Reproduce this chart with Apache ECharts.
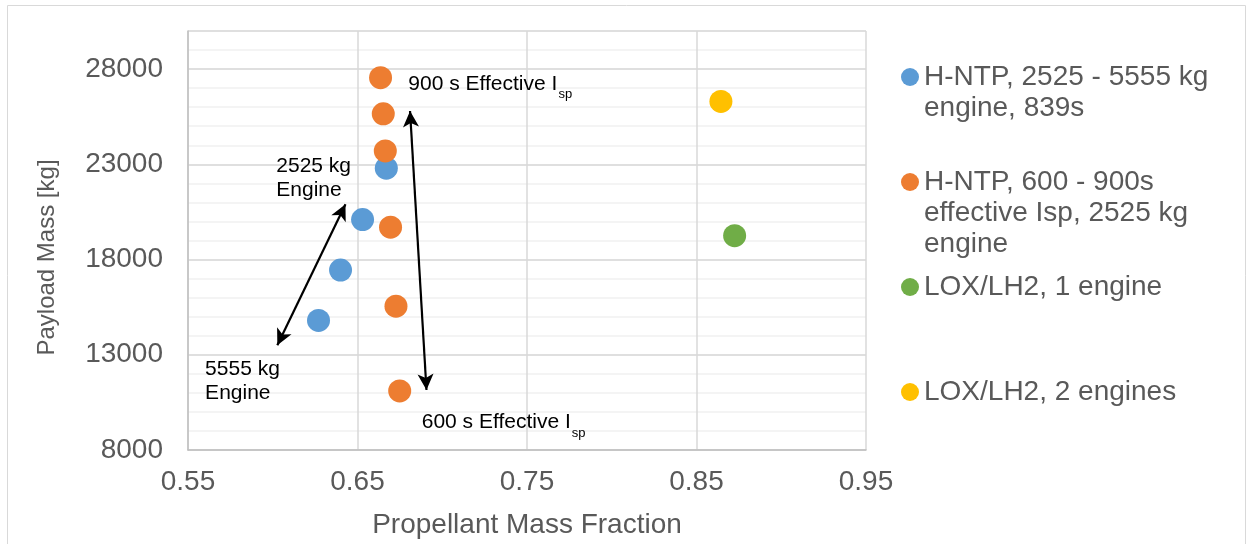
<!DOCTYPE html>
<html>
<head>
<meta charset="utf-8">
<script src="https://cdn.jsdelivr.net/npm/echarts@6/dist/echarts.min.js"></script>
<style>html,body{margin:0;padding:0;background:#fff}#c{width:1250px;height:544px}</style>
</head>
<body>
<div id="c"></div>
<script>
// ---- data ----
const seriesNames = [
  'H-NTP, 2525 - 5555 kg\nengine, 839s',
  'H-NTP, 600 - 900s\neffective Isp, 2525 kg\nengine',
  'LOX/LH2, 1 engine',
  'LOX/LH2, 2 engines'
];
const hntpEngineX = [0.667, 0.653, 0.640, 0.627];
const hntpEngineY = [22800, 20100, 17450, 14800];
const hntpIspX = [0.6636, 0.6652, 0.6664, 0.6695, 0.6727, 0.6749];
const hntpIspY = [27550, 25650, 23700, 19700, 15550, 11100];
const lox1X = [0.8725];
const lox1Y = [19250];
const lox2X = [0.8644];
const lox2Y = [26300];
const xTicks = [0.55, 0.65, 0.75, 0.85, 0.95];
const yTicks = [8000, 13000, 18000, 23000, 28000];
// annotation arrows (data coords): [from, to]
const arrowEngine = [[0.6027, 13500], [0.6429, 20900]];
const arrowIsp = [[0.6810, 25800], [0.6907, 11150]];
// annotation text anchors (data coords)
const noteTexts = ['900 s Effective I', '2525 kg\nEngine', '5555 kg\nEngine', '600 s Effective I'];
const noteX = [0.6800, 0.6021, 0.5601, 0.6879];
const noteY = [27230, 22250, 11600, 9440];
const noteSub = ['sp', '', '', 'sp'];

const colors = ['#5B9BD5', '#ED7D31', '#70AD47', '#FFC000'];
const FONT = '"Liberation Sans", Arial, sans-serif';

function pairs(xs, ys) { return xs.map((x, i) => [x, ys[i]]); }

const chart = echarts.init(document.getElementById('c'), null, {renderer: 'canvas'});

const notes = noteTexts.map((t, i) => ({
  coord: [noteX[i], noteY[i]],
  value: i,
  label: {
    formatter: noteSub[i] ? '{a|' + t + '}{s|' + noteSub[i] + '}' : '{b|' + t + '}'
  }
}));

const legendGraphic = [];
const legendLineCenters = [[77, 108], [182, 213, 244], [287], [392]];
seriesNames.forEach((n, i) => {
  const y0 = legendLineCenters[i][0];
  legendGraphic.push({
    type: 'circle', shape: {cx: 910, cy: y0, r: 9},
    style: {fill: colors[i]}, z: 100
  });
  legendGraphic.push({
    type: 'text', x: 924, y: y0 - 15.5,
    style: {text: n, font: '28px ' + FONT, fill: '#595959', lineHeight: 31, verticalAlign: 'top'},
    z: 100
  });
});
legendGraphic.push({
  type: 'rect', shape: {x: 7.5, y: 5.5, width: 1238, height: 600},
  style: {fill: 'none', stroke: '#d9d9d9', lineWidth: 1}, z: -1, silent: true
});

const option = {
  animation: false,
  textStyle: {fontFamily: FONT},
  grid: {left: 188, right: 384, top: 31, bottom: 94, containLabel: false},
  xAxis: {
    type: 'value', min: xTicks[0], max: xTicks[xTicks.length - 1], interval: 0.1,
    name: 'Propellant Mass Fraction', nameLocation: 'middle', nameGap: 61,
    nameTextStyle: {fontSize: 28, color: '#595959', fontFamily: FONT},
    axisLine: {show: true, lineStyle: {color: '#bfbfbf', width: 1.5}},
    axisTick: {show: false},
    axisLabel: {fontSize: 28, color: '#595959', margin: 18, fontFamily: FONT,
      formatter: v => v.toFixed(2)},
    splitLine: {show: true, lineStyle: {color: '#d9d9d9', width: 1.5}}
  },
  yAxis: [{
    type: 'value', min: 8000, max: 30000, interval: 1000,
    axisLine: {show: true, lineStyle: {color: '#bfbfbf', width: 1.5}},
    axisTick: {show: false},
    axisLabel: {show: false},
    splitLine: {show: true, lineStyle: {color: '#f0f0f0', width: 1.5}}
  }, {
    type: 'value', min: 8000, max: 30000, interval: 5000, position: 'left',
    name: 'Payload Mass [kg]', nameLocation: 'middle', nameGap: 129,
    nameTextStyle: {fontSize: 24, color: '#595959', fontFamily: FONT, padding: [0, 34, 0, 0]},
    axisLine: {show: false}, axisTick: {show: false},
    axisLabel: {fontSize: 28, color: '#595959', margin: 25, fontFamily: FONT,
      formatter: v => (yTicks.indexOf(v) >= 0 ? String(v) : '')},
    splitLine: {show: true, lineStyle: {color: '#d9d9d9', width: 1.5}}
  }],
  graphic: legendGraphic,
  series: [
    {
      name: seriesNames[0], type: 'scatter', symbolSize: 23,
      itemStyle: {color: colors[0], opacity: 1}, data: pairs(hntpEngineX, hntpEngineY), z: 3,
      markLine: {
        silent: true, symbol: ['arrow', 'arrow'], symbolSize: [12, 16], precision: 6,
        label: {show: false},
        lineStyle: {color: '#000', width: 2.2, type: 'solid'},
        emphasis: {disabled: true},
        data: [
          [{coord: arrowEngine[0]}, {coord: arrowEngine[1]}],
          [{coord: arrowIsp[0]}, {coord: arrowIsp[1]}]
        ]
      },
      markPoint: {
        silent: true, symbol: 'circle', symbolSize: 0,
        itemStyle: {color: 'transparent'},
        label: {
          show: true, position: 'right', distance: 0, color: '#000',
          rich: {
            a: {fontSize: 21, color: '#000', fontFamily: FONT, lineHeight: 24},
            s: {fontSize: 13, color: '#000', fontFamily: FONT, lineHeight: 24, padding: [22, 0, 0, 1]},
            b: {fontSize: 21, color: '#000', fontFamily: FONT, lineHeight: 24}
          }
        },
        data: notes
      }
    },
    {name: seriesNames[1], type: 'scatter', symbolSize: 23,
      itemStyle: {color: colors[1], opacity: 1}, data: pairs(hntpIspX, hntpIspY), z: 4},
    {name: seriesNames[2], type: 'scatter', symbolSize: 23,
      itemStyle: {color: colors[2], opacity: 1}, data: pairs(lox1X, lox1Y)},
    {name: seriesNames[3], type: 'scatter', symbolSize: 23,
      itemStyle: {color: colors[3], opacity: 1}, data: pairs(lox2X, lox2Y)}
  ]
};
chart.setOption(option);
</script>
</body>
</html>
